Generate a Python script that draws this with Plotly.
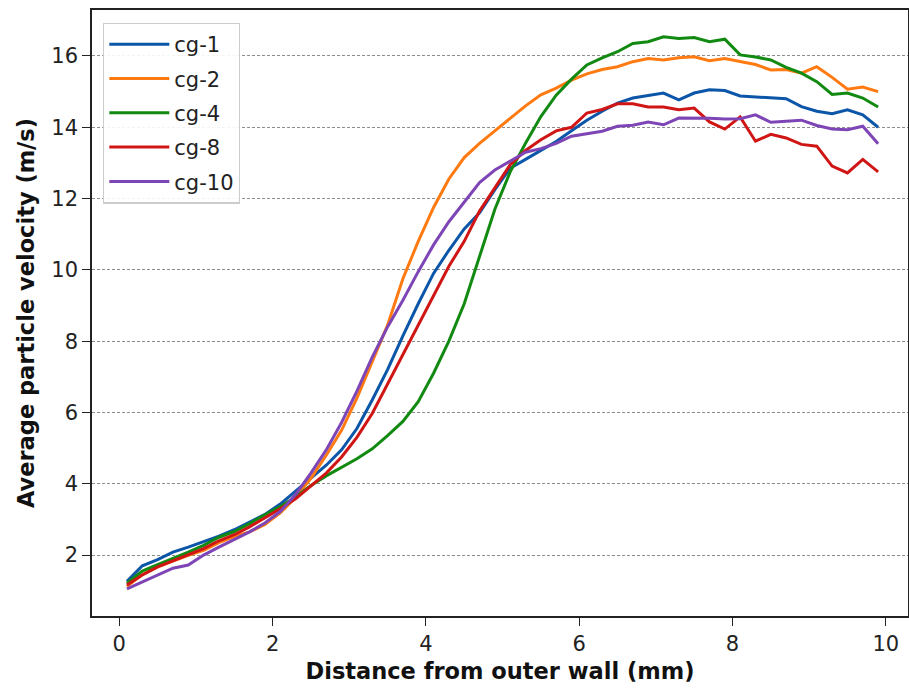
import plotly.graph_objects as go

x_mm = [0.1, 0.3, 0.5, 0.7, 0.9, 1.1, 1.3, 1.5, 1.7, 1.9,
        2.1, 2.3, 2.5, 2.7, 2.9, 3.1, 3.3, 3.5, 3.7, 3.9,
        4.1, 4.3, 4.5, 4.7, 4.9, 5.1, 5.3, 5.5, 5.7, 5.9,
        6.1, 6.3, 6.5, 6.7, 6.9, 7.1, 7.3, 7.5, 7.7, 7.9,
        8.1, 8.3, 8.5, 8.7, 8.9, 9.1, 9.3, 9.5, 9.7, 9.9]

cg1 = [1.26, 1.70, 1.87, 2.08, 2.22, 2.37, 2.53, 2.71, 2.93, 3.14,
       3.43, 3.80, 4.15, 4.52, 4.95, 5.55, 6.35, 7.20, 8.15, 9.05,
       9.90, 10.55, 11.15, 11.60, 12.25, 12.85, 13.10, 13.35, 13.60, 13.90,
       14.20, 14.45, 14.68, 14.82, 14.90, 14.96, 14.77, 14.96, 15.05, 15.03,
       14.88, 14.85, 14.82, 14.80, 14.58, 14.45, 14.38, 14.49, 14.35, 14.00]

cg2 = [1.12, 1.45, 1.67, 1.84, 1.99, 2.13, 2.35, 2.52, 2.65, 2.86,
       3.18, 3.62, 4.15, 4.80, 5.50, 6.40, 7.40, 8.45, 9.75, 10.80,
       11.75, 12.55, 13.15, 13.55, 13.90, 14.25, 14.60, 14.91, 15.10, 15.32,
       15.50, 15.62, 15.70, 15.84, 15.93, 15.89, 15.95, 15.98, 15.87, 15.93,
       15.84, 15.76, 15.61, 15.62, 15.52, 15.70, 15.40, 15.07, 15.13, 15.00]

cg4 = [1.21, 1.55, 1.73, 1.90, 2.08, 2.27, 2.50, 2.66, 2.88, 3.13,
       3.36, 3.63, 3.95, 4.22, 4.45, 4.70, 4.98, 5.35, 5.75, 6.30,
       7.10, 8.00, 9.05, 10.35, 11.70, 12.75, 13.55, 14.30, 14.90, 15.35,
       15.75, 15.95, 16.12, 16.35, 16.40, 16.54, 16.49, 16.52, 16.40, 16.47,
       16.03, 15.97, 15.89, 15.68, 15.52, 15.28, 14.92, 14.96, 14.82, 14.57]

cg8 = [1.16, 1.44, 1.67, 1.84, 2.00, 2.18, 2.40, 2.57, 2.79, 3.04,
       3.30, 3.58, 3.95, 4.30, 4.75, 5.30, 5.97, 6.80, 7.60, 8.45,
       9.30, 10.10, 10.80, 11.65, 12.30, 12.95, 13.35, 13.65, 13.90, 14.00,
       14.40, 14.50, 14.66, 14.66, 14.57, 14.57, 14.49, 14.54, 14.15, 13.95,
       14.29, 13.61, 13.80, 13.70, 13.52, 13.47, 12.91, 12.72, 13.10, 12.75]

cg10 = [1.05, 1.24, 1.45, 1.63, 1.72, 2.00, 2.22, 2.43, 2.65, 2.90,
        3.22, 3.70, 4.30, 4.95, 5.72, 6.60, 7.55, 8.40, 9.15, 9.95,
        10.70, 11.35, 11.90, 12.45, 12.80, 13.05, 13.30, 13.40, 13.55, 13.75,
        13.82, 13.89, 14.03, 14.06, 14.15, 14.07, 14.26, 14.26, 14.25, 14.23,
        14.24, 14.35, 14.14, 14.17, 14.20, 14.05, 13.95, 13.93, 14.03, 13.54]

series_names = ["cg-1", "cg-2", "cg-4", "cg-8", "cg-10"]
series_values = [cg1, cg2, cg4, cg8, cg10]
colors = ["#0b56a8", "#ff7a10", "#128a12", "#d01515", "#7d45b5"]

x_ticks = [0, 2, 4, 6, 8, 10]
y_ticks = [2, 4, 6, 8, 10, 12, 14, 16]

fig = go.Figure()
for name, vals, col in zip(series_names, series_values, colors):
    fig.add_trace(go.Scatter(x=x_mm, y=vals, mode="lines", name=name,
                             legendgroup=name,
                             line=dict(color=col, width=3)))

font_family = "DejaVu Sans"
fig.update_layout(
    width=909, height=689,
    margin=dict(l=92, r=1, t=10, b=73, autoexpand=False),
    paper_bgcolor="white", plot_bgcolor="white",
    font=dict(family=font_family, size=21, color="#222"),
    showlegend=True,
    legend=dict(x=0.0135, y=0.979, xanchor="left", yanchor="top",
                bgcolor="rgba(255,255,255,0.9)", bordercolor="#cccccc",
                borderwidth=1.3, font=dict(size=21, color="#222"),
                itemwidth=60, tracegroupgap=4),
    xaxis=dict(range=[-0.356, 10.29], tickvals=x_ticks, ticks="outside",
               ticklen=8, tickwidth=1.3, tickcolor="#222",
               showline=True, linecolor="#222", linewidth=1.5, mirror=True,
               showgrid=False, zeroline=False,
               tickfont=dict(size=21),
               title=dict(text="<b>Distance from outer wall (mm)</b>",
                          font=dict(size=22.5, color="#111"), standoff=8)),
    yaxis=dict(range=[0.29, 17.29], tickvals=y_ticks, ticks="outside",
               ticklen=8, tickwidth=1.3, tickcolor="#222",
               showline=True, linecolor="#222", linewidth=1.5, mirror=True,
               showgrid=True, gridcolor="#8c8c8c", gridwidth=1,
               griddash="3px,2px", zeroline=False,
               tickfont=dict(size=21),
               title=dict(text="<b>Average particle velocity (m/s)</b>",
                          font=dict(size=22.5, color="#111"), standoff=10)),
)

fig.write_html("out.html", config={"displayModeBar": False},
               post_script="document.body.style.margin='0';document.body.style.overflow='hidden';")
